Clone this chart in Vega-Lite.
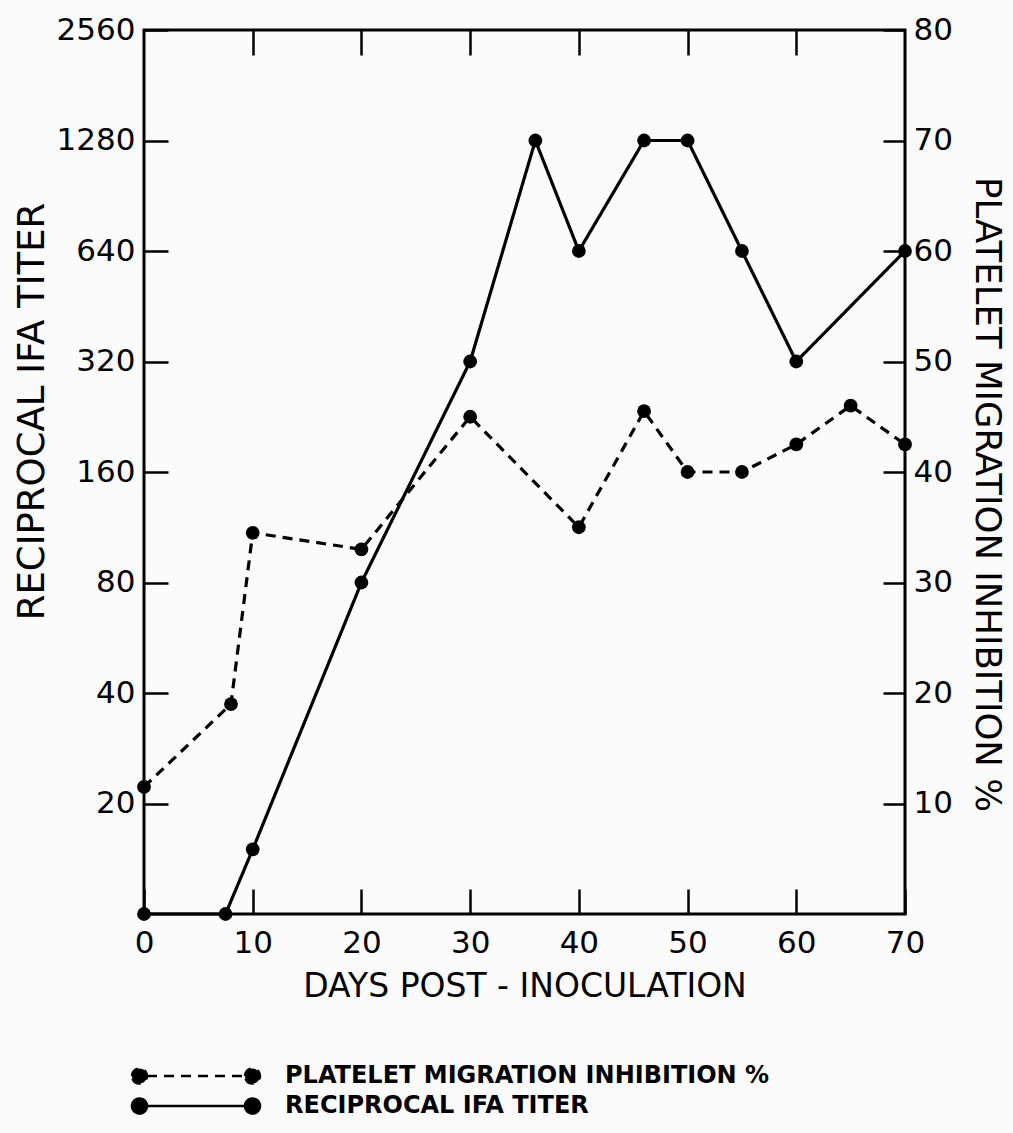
{
  "$schema": "https://vega.github.io/schema/vega-lite/v6.json",
  "width": 761,
  "height": 884,
  "autosize": {"type": "none"},
  "padding": {"left": 144, "top": 30, "right": 108, "bottom": 219},
  "background": "#fbfbfb",
  "config": {
    "font": "DejaVu Sans",
    "view": {"stroke": "black", "strokeWidth": 3},
    "axis": {
      "domain": false,
      "grid": false,
      "tickColor": "black",
      "tickWidth": 2.5,
      "labelColor": "black",
      "titleColor": "black",
      "labelFont": "DejaVu Sans",
      "titleFont": "DejaVu Sans",
      "labelFontSize": 31,
      "titleFontSize": 35,
      "titleFontWeight": "normal",
      "labelFlush": false,
      "labelOverlap": false
    }
  },
  "data": {
    "values": [
      {"series": "RECIPROCAL IFA TITER", "day": 0, "value": 10},
      {"series": "RECIPROCAL IFA TITER", "day": 7.5, "value": 10},
      {"series": "RECIPROCAL IFA TITER", "day": 10, "value": 15},
      {"series": "RECIPROCAL IFA TITER", "day": 20, "value": 80},
      {"series": "RECIPROCAL IFA TITER", "day": 30, "value": 320},
      {"series": "RECIPROCAL IFA TITER", "day": 36, "value": 1280},
      {"series": "RECIPROCAL IFA TITER", "day": 40, "value": 640},
      {"series": "RECIPROCAL IFA TITER", "day": 46, "value": 1280},
      {"series": "RECIPROCAL IFA TITER", "day": 50, "value": 1280},
      {"series": "RECIPROCAL IFA TITER", "day": 55, "value": 640},
      {"series": "RECIPROCAL IFA TITER", "day": 60, "value": 320},
      {"series": "RECIPROCAL IFA TITER", "day": 70, "value": 640},
      {"series": "PLATELET MIGRATION INHIBITION %", "day": 0, "value": 11.5},
      {"series": "PLATELET MIGRATION INHIBITION %", "day": 8, "value": 19},
      {"series": "PLATELET MIGRATION INHIBITION %", "day": 10, "value": 34.5},
      {"series": "PLATELET MIGRATION INHIBITION %", "day": 20, "value": 33},
      {"series": "PLATELET MIGRATION INHIBITION %", "day": 30, "value": 45},
      {"series": "PLATELET MIGRATION INHIBITION %", "day": 40, "value": 35},
      {"series": "PLATELET MIGRATION INHIBITION %", "day": 46, "value": 45.5},
      {"series": "PLATELET MIGRATION INHIBITION %", "day": 50, "value": 40},
      {"series": "PLATELET MIGRATION INHIBITION %", "day": 55, "value": 40},
      {"series": "PLATELET MIGRATION INHIBITION %", "day": 60, "value": 42.5},
      {"series": "PLATELET MIGRATION INHIBITION %", "day": 65, "value": 46},
      {"series": "PLATELET MIGRATION INHIBITION %", "day": 70, "value": 42.5}
    ]
  },
  "layer": [
    {
      "transform": [{"filter": "datum.series === 'RECIPROCAL IFA TITER'"}],
      "encoding": {
        "x": {
          "field": "day",
          "type": "quantitative",
          "scale": {"domain": [0, 70], "nice": false, "zero": false},
          "axis": {
            "orient": "bottom",
            "values": [0, 10, 20, 30, 40, 50, 60, 70],
            "tickSize": -25,
            "labelPadding": 39,
            "title": "DAYS POST - INOCULATION",
            "titleFontSize": 33,
            "titlePadding": 12
          }
        },
        "y": {
          "field": "value",
          "type": "quantitative",
          "scale": {"type": "log", "base": 2, "domain": [10, 2560], "nice": false, "zero": false},
          "axis": {
            "orient": "left",
            "values": [20, 40, 80, 160, 320, 640, 1280, 2560],
            "format": "d",
            "tickSize": -24,
            "labelPadding": 33,
            "title": "RECIPROCAL IFA TITER",
            "titleFontSize": 37,
            "titleY": 381,
            "titlePadding": 5
          }
        }
      },
      "layer": [
        {
          "mark": {"type": "line", "color": "black", "strokeWidth": 3.2},
          "encoding": {
            "strokeDash": {
              "field": "series",
              "type": "nominal",
              "scale": {
                "domain": ["PLATELET MIGRATION INHIBITION %", "RECIPROCAL IFA TITER"],
                "range": [[10, 7], [1, 0]]
              },
              "legend": {
                "title": null,
                "orient": "none",
                "legendX": -14,
                "legendY": 1034,
                "direction": "vertical",
                "symbolType": "M-1,0A0.75,0.75,0,1,1,0.5,0A0.75,0.75,0,1,1,-1,0ZM10.3,0A0.75,0.75,0,1,1,11.8,0A0.75,0.75,0,1,1,10.3,0ZM0.5,0L10.3,0",
                "symbolSize": 400,
                "symbolStrokeWidth": 2.5,
                "symbolStrokeColor": "black",
                "symbolFillColor": "black",
                "symbolOpacity": 1,
                "labelFont": "DejaVu Sans",
                "labelFontSize": 24,
                "labelFontWeight": "bold",
                "labelColor": "black",
                "labelOffset": 131,
                "labelLimit": 0,
                "rowPadding": 4,
                "padding": 0,
                "encode": {
                  "symbols": {"update": {"fill": {"value": "black"}, "stroke": {"value": "black"}, "opacity": {"value": 1}}}
                }
              }
            }
          }
        },
        {"mark": {"type": "circle", "color": "black", "size": 190, "opacity": 1}}
      ]
    },
    {
      "transform": [{"filter": "datum.series === 'PLATELET MIGRATION INHIBITION %'"}],
      "encoding": {
        "x": {
          "field": "day",
          "type": "quantitative",
          "scale": {"domain": [0, 70], "nice": false, "zero": false},
          "axis": {
            "orient": "top",
            "values": [10, 20, 30, 40, 50, 60],
            "tickSize": -25,
            "labels": false,
            "title": null
          }
        },
        "y": {
          "field": "value",
          "type": "quantitative",
          "scale": {"domain": [0, 80], "nice": false, "zero": false},
          "axis": {
            "orient": "right",
            "values": [10, 20, 30, 40, 50, 60, 70, 80],
            "tickSize": -22,
            "labelPadding": 30,
            "title": "PLATELET MIGRATION INHIBITION %",
            "titleFontSize": 35.5,
            "titleY": 464,
            "titlePadding": 16
          }
        }
      },
      "layer": [
        {
          "mark": {"type": "line", "color": "black", "strokeWidth": 3.2},
          "encoding": {
            "strokeDash": {"field": "series", "type": "nominal"}
          }
        },
        {"mark": {"type": "circle", "color": "black", "size": 190, "opacity": 1}}
      ]
    }
  ],
  "resolve": {"scale": {"y": "independent"}, "axis": {"x": "independent"}}
}
